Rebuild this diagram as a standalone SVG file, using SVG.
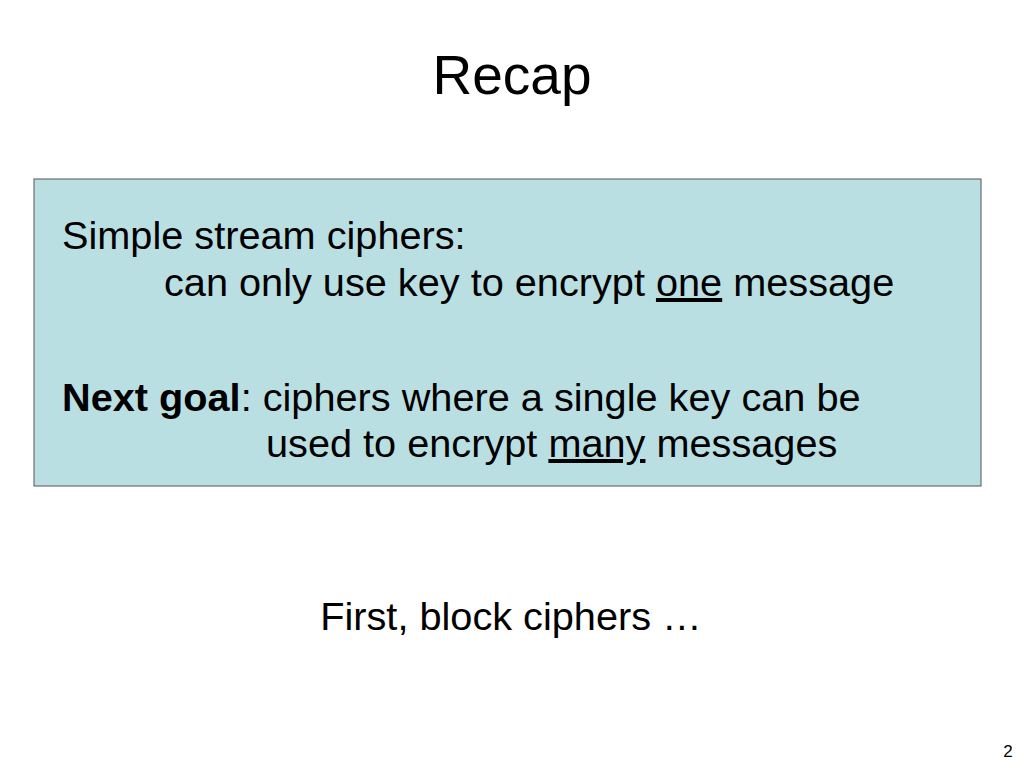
<svg xmlns="http://www.w3.org/2000/svg" width="1024" height="768" viewBox="0 0 1024 768">
<style>
text{font-family:"Liberation Sans",Arial,sans-serif;fill:#000}
.b{font-size:39.7px}
</style>
<rect width="1024" height="768" fill="#fff"/>
<text x="512" y="94" font-size="55" text-anchor="middle">Recap</text>
<g id="box">
<rect x="34" y="179" width="947" height="307" fill="#b9dfe2" stroke="#555" stroke-width="1"/>
<text class="b" x="62" y="249">Simple stream ciphers:</text>
<text class="b" x="164" y="296">can only use key to encrypt <tspan text-decoration="underline">one</tspan> message</text>
<text class="b" x="62" y="411"><tspan font-weight="bold">Next goal</tspan>: ciphers where a single key can be</text>
<text class="b" x="266" y="457">used to encrypt <tspan text-decoration="underline">many</tspan> messages</text>
</g>
<text class="b" x="511" y="630" text-anchor="middle">First, block ciphers …</text>
<text x="1008" y="757" font-size="17" text-anchor="middle">2</text>
</svg>
